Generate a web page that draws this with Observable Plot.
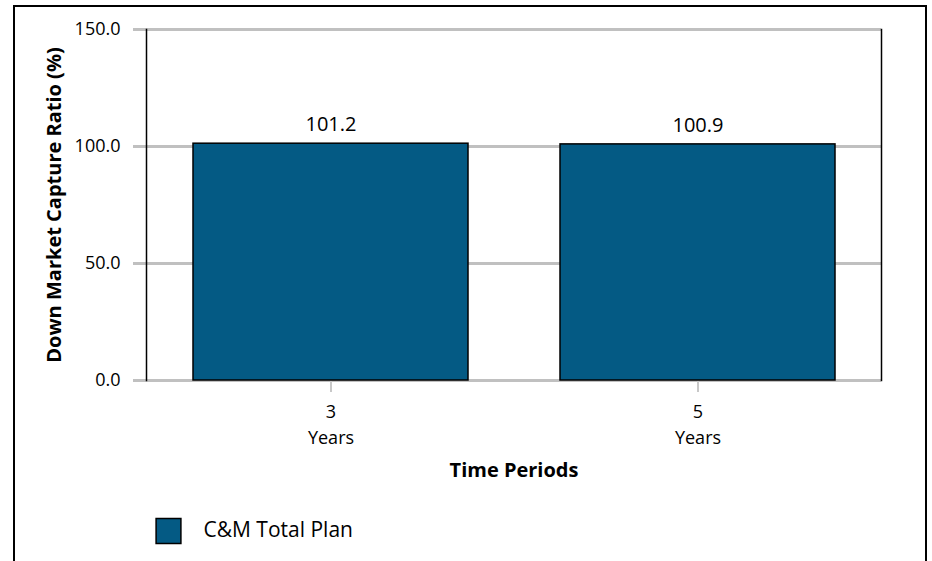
<!DOCTYPE html>
<html>
<head>
<meta charset="utf-8">
<script src="https://cdn.jsdelivr.net/npm/d3@7"></script>
<script src="https://cdn.jsdelivr.net/npm/@observablehq/plot@0.6"></script>
<style>
  html, body { margin: 0; padding: 0; background: #fff; overflow: hidden; }
  #wrap { position: relative; width: 932px; height: 561px; }
  #border { position: absolute; left: 13px; top: 5px; width: 914px; height: 600px;
            border: 2.5px solid #000; border-bottom: none; pointer-events: none; box-sizing: border-box; }
</style>
</head>
<body>
<div id="wrap"><div id="border"></div></div>
<script>
const periods = ["3", "5"];
const periodUnit = "Years";
const values = [101.2, 100.9];
const seriesName = "C&M Total Plan";
const yTicks = [0, 50, 100, 150];
const yTitle = "Down Market Capture Ratio (%)";
const xTitle = "Time Periods";

const data = periods.map((p, i) => ({period: p, value: values[i]}));
const barColor = "#045a84";
const fmt = d3.format(".1f");
const font = "'Open Sans', Lato, sans-serif";

const chart = Plot.plot({
  width: 932,
  height: 561,
  marginLeft: 146,
  marginRight: 51,
  marginTop: 29,
  marginBottom: 181,
  style: {fontFamily: font, fontSize: "18px", color: "#000", background: "transparent"},
  x: {domain: periods, padding: 0},
  y: {domain: [0, 150]},
  marks: [
    Plot.gridY(yTicks, {stroke: "#c0c0c0", strokeOpacity: 1, strokeWidth: 3}),
    Plot.axisY(yTicks, {tickFormat: fmt, tickSize: 13, tickPadding: 13, stroke: "#c0c0c0", strokeWidth: 3, fontSize: 18, label: null}),
    Plot.axisX({tickSize: 12, tickPadding: 7, stroke: "#c8c8c8", strokeWidth: 2, fontSize: 18, lineHeight: 1.45,
                tickFormat: d => d + "\n" + periodUnit, label: null}),
    Plot.frame({anchor: "left", stroke: "#000", strokeWidth: 1.5}),
    Plot.frame({anchor: "right", stroke: "#000", strokeWidth: 1.5}),
    Plot.barY(data, {x: "period", y: "value", insetLeft: 46, insetRight: 46, fill: barColor, stroke: "#000", strokeWidth: 1.5}),
    Plot.text(data, {x: "period", y: "value", text: d => fmt(d.value), dy: -19, fontSize: 20}),
    Plot.text([yTitle], {frameAnchor: "left", rotate: -90, dx: -92, textAnchor: "middle", fontWeight: "bold", fontSize: 20}),
    Plot.text([xTitle], {frameAnchor: "bottom", dy: 96, fontWeight: "bold", fontSize: 20}),
    Plot.dot([seriesName], {frameAnchor: "bottom-left", dx: 22, dy: 150.5, symbol: "square", r: 14, fill: barColor, stroke: "#000", strokeWidth: 1.5}),
    Plot.text([seriesName], {frameAnchor: "bottom-left", dx: 57, dy: 156, textAnchor: "start", fontSize: 21})
  ]
});
document.getElementById("wrap").prepend(chart);
chart.style.position = "absolute";
chart.style.left = "0";
chart.style.top = "0";
</script>
</body>
</html>
